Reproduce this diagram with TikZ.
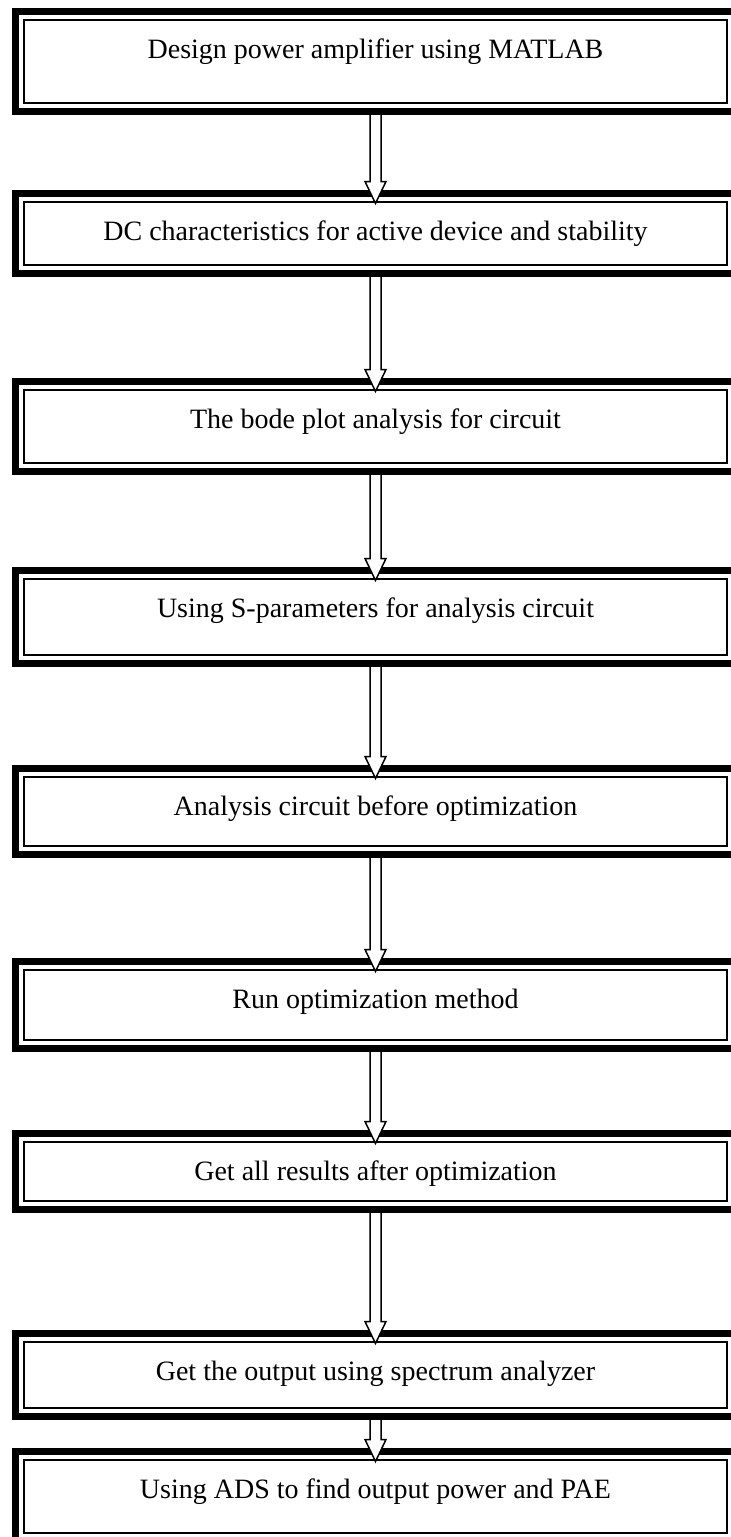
\documentclass[tikz,border=0pt]{standalone}
\usepackage{fontspec}
\setmainfont{Liberation Serif}
\usetikzlibrary{calc}

\tikzset{
  stagebox/.style={draw=black, line width=7pt, fill=white,
    minimum width=720pt, inner sep=0pt, outer sep=0pt,
    path picture={\draw[line width=1.8pt]
      ([shift={(8.5pt,-8.5pt)}]path picture bounding box.north west) rectangle
      ([shift={(-8.5pt,8.5pt)}]path picture bounding box.south east);}},
  stagetext/.style={anchor=base, font=\fontsize{28}{34}\selectfont, inner sep=0pt},
  arrowbody/.style={draw=black, fill=white, line width=1.5pt, line join=miter}
}

% hollow block arrow from the bottom of one box into the top of the next
\newcommand{\hollowarrow}[2]{%
  \draw[arrowbody] let \p1=(#1.south), \p2=(#2.north) in
    (\x1-5.5pt,\y1-3.5pt) -- (\x1-5.5pt,\y2+12pt) -- (\x1-10.5pt,\y2+12pt)
    -- (\x1,\y2-10pt) -- (\x1+10.5pt,\y2+12pt) -- (\x1+5.5pt,\y2+12pt)
    -- (\x1+5.5pt,\y1-3.5pt);}

\begin{document}
\begin{tikzpicture}[x=1pt, y=-1pt]
\useasboundingbox (0,0) rectangle (731,1537);
\clip (0,0) rectangle (731,1537);

% process boxes (centre line of the thick frame)
\node[stagebox, minimum height=100pt] (b1) at (375.5,61.5) {};
\node[stagebox, minimum height=80pt]  (b2) at (375.5,233.5) {};
\node[stagebox, minimum height=90pt]  (b3) at (375.5,426.5) {};
\node[stagebox, minimum height=93pt]  (b4) at (375.5,617) {};
\node[stagebox, minimum height=86pt]  (b5) at (375.5,811.5) {};
\node[stagebox, minimum height=87pt]  (b6) at (375.5,1005) {};
\node[stagebox, minimum height=76pt]  (b7) at (375.5,1171.5) {};
\node[stagebox, minimum height=83pt]  (b8) at (375.5,1375) {};
\node[stagebox, minimum height=90pt]  (b9) at (375.5,1496.5) {};

% labels
\node[stagetext] (t1) at ($(b1.north)+(0,46.5)$) {Design power amplifier using MATLAB};
\node[stagetext] (t2) at ($(b2.north)+(0,46.5)$) {DC characteristics for active device and stability};
\node[stagetext] (t3) at ($(b3.north)+(0,46.5)$) {The bode plot analysis for circuit};
\node[stagetext] (t4) at ($(b4.north)+(0,46.5)$) {Using S-parameters for analysis circuit};
\node[stagetext] (t5) at ($(b5.north)+(0,46.5)$) {Analysis circuit before optimization};
\node[stagetext] (t6) at ($(b6.north)+(0,46.5)$) {Run optimization method};
\node[stagetext] (t7) at ($(b7.north)+(0,46.5)$) {Get all results after optimization};
\node[stagetext] (t8) at ($(b8.north)+(0,46.5)$) {Get the output using spectrum analyzer};
\node[stagetext] (t9) at ($(b9.north)+(0,46.5)$) {Using ADS to find output power and PAE};

% connectors
\hollowarrow{b1}{b2}
\hollowarrow{b2}{b3}
\hollowarrow{b3}{b4}
\hollowarrow{b4}{b5}
\hollowarrow{b5}{b6}
\hollowarrow{b6}{b7}
\hollowarrow{b7}{b8}
\hollowarrow{b8}{b9}
\end{tikzpicture}
\end{document}
